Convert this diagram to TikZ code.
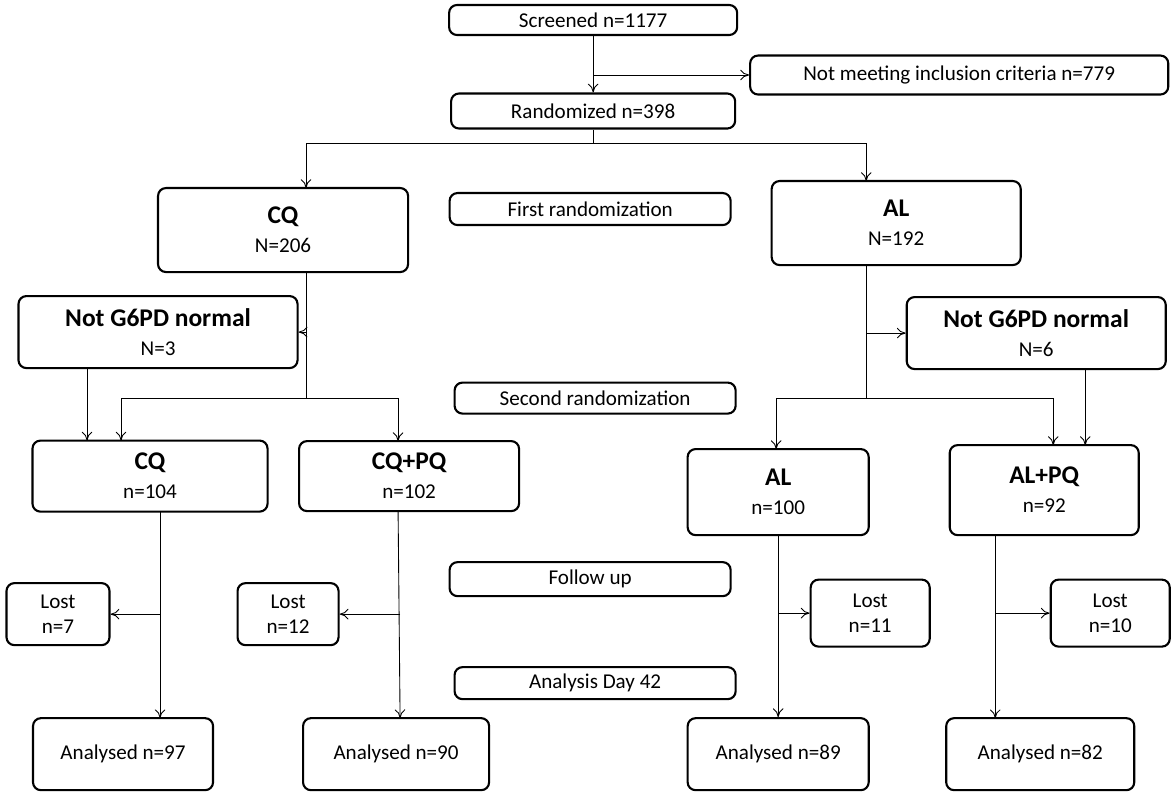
\documentclass[tikz,border=0pt]{standalone}
\usepackage{fontspec}
\setmainfont{Carlito}
\usetikzlibrary{arrows.meta}
\tikzset{
  box/.style={draw, line width=1.2pt, rounded corners=4.5pt, align=center, inner sep=0pt, font=\fontsize{12}{14.5}\selectfont},
  arr/.style={-{To[length=5pt,width=6pt]}, line width=0.5pt},
  ln/.style={line width=0.5pt}
}
\newcommand\hd{\fontsize{14.5}{17}\selectfont\bfseries}
% box at pixel centre (#1,#2), size #3 x #4 px
\newcommand\bx[6]{\node[box, minimum width=#3*0.02cm, minimum height=#4*0.02cm] (#5) at (#1*0.02,-#2*0.02) {#6};}
\begin{document}
\begin{tikzpicture}
  \useasboundingbox (0,0) rectangle (23.48,-16);
  \bx{593}{20}{288}{30}{scr}{Screened n=1177}
  \bx{959}{75}{418}{39}{notm}{Not meeting inclusion criteria n=779}
  \bx{593}{111}{284}{35}{rand}{Randomized n=398}
  \bx{283}{230}{250}{84}{cq}{{\hd CQ}\\[2pt]N=206}
  \bx{590}{209}{281}{32}{first}{First randomization}
  \bx{896}{223}{249}{84}{al}{{\hd AL}\\[2pt]N=192}
  \bx{158}{332}{279}{72}{ngl}{{\hd Not G6PD normal}\\[2pt]N=3}
  \bx{1036}{333}{259}{72}{ngr}{{\hd Not G6PD normal}\\[2pt]N=6}
  \bx{595}{398}{281}{31}{second}{Second randomization}
  \bx{150}{476}{235}{71}{cqa}{{\hd CQ}\\[2pt]n=104}
  \bx{409}{476}{220}{70}{cqpq}{{\hd CQ+PQ}\\[2pt]n=102}
  \bx{778}{492}{181}{86}{ala}{{\hd AL}\\[2pt]n=100}
  \bx{1044}{490}{189}{90}{alpq}{{\hd AL+PQ}\\[2pt]n=92}
  \bx{590}{579}{281}{34}{fu}{Follow up}
  \bx{58}{614}{103}{62}{l1}{Lost\\n=7}
  \bx{288}{614}{101}{62}{l2}{Lost\\n=12}
  \bx{870}{613}{119}{67}{l3}{Lost\\n=11}
  \bx{1110}{613}{119}{67}{l4}{Lost\\n=10}
  \bx{595}{683}{281}{32}{ana}{Analysis Day 42}
  \bx{123}{754}{180}{72}{a1}{Analysed n=97}
  \bx{396}{754}{186}{72}{a2}{Analysed n=90}
  \bx{778}{754}{181}{72}{a3}{Analysed n=89}
  \bx{1040}{754}{188}{72}{a4}{Analysed n=82}

  % junctions
  \coordinate (j1) at (593*0.02,-75*0.02);
  \coordinate (j2) at (593*0.02,-143*0.02);
  \coordinate (j3) at (306*0.02,-332*0.02);
  \coordinate (j4) at (306*0.02,-398*0.02);
  \coordinate (j5) at (866*0.02,-333*0.02);
  \coordinate (j6) at (866*0.02,-398*0.02);
  \coordinate (j7) at (160*0.02,-614*0.02);
  \coordinate (j8) at (400*0.02,-614*0.02);
  \coordinate (j9) at (778*0.02,-613*0.02);
  \coordinate (j10) at (995*0.02,-613*0.02);

  \draw[arr] (scr) -- (rand);
  \draw[arr] (j1) -- (notm);
  \draw[ln] (rand) -- (j2);
  \draw[arr] (j2) -| (306*0.02,-188*0.02);
  \draw[arr] (j2) -| (866*0.02,-181*0.02);
  % CQ arm
  \draw[ln] (306*0.02,-272*0.02) -- (j4);
  \draw[arr] (j3) -- (ngl);
  \draw[arr] (j4) -| (121*0.02,-440.5*0.02);
  \draw[arr] (j4) -| (398*0.02,-441*0.02);
  \draw[arr] (87*0.02,-368*0.02) -- (87*0.02,-440.5*0.02);
  % AL arm
  \draw[ln] (866*0.02,-265*0.02) -- (j6);
  \draw[arr] (j5) -- (ngr);
  \draw[arr] (j6) -| (776*0.02,-449*0.02);
  \draw[arr] (j6) -| (1053*0.02,-445*0.02);
  \draw[arr] (1085*0.02,-369*0.02) -- (1085*0.02,-445*0.02);
  % follow up
  \draw[arr] (160*0.02,-511.5*0.02) -- (160*0.02,-718*0.02);
  \draw[arr] (j7) -- (l1);
  \draw[arr] (398*0.02,-511*0.02) -- (400*0.02,-718*0.02);
  \draw[arr] (j8) -- (l2);
  \draw[arr] (ala) -- (a3);
  \draw[arr] (j9) -- (l3);
  \draw[arr] (995*0.02,-535*0.02) -- (995*0.02,-718*0.02);
  \draw[arr] (j10) -- (l4);
\end{tikzpicture}
\end{document}
